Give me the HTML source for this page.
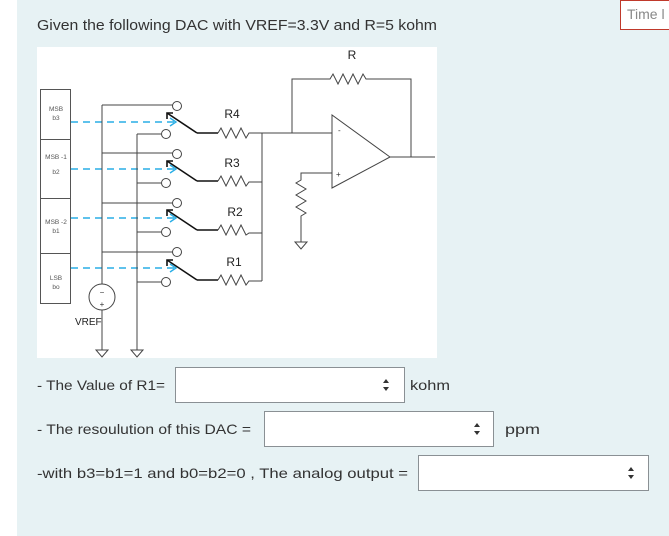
<!DOCTYPE html>
<html><head><meta charset="utf-8"><style>
html,body{margin:0;padding:0;background:#fff;width:669px;height:536px;overflow:hidden}
svg{display:block}
text{font-family:"Liberation Sans",sans-serif}
</style></head><body>
<svg width="669" height="536" viewBox="0 0 669 536" xmlns="http://www.w3.org/2000/svg">
<rect x="17" y="0" width="652" height="536" fill="#e7f2f4"/>
<rect x="620.5" y="0.5" width="60" height="29" fill="#fff" stroke="#c0392b"/>
<text x="627" y="19" font-size="14" fill="#888">Time l</text>
<text x="37" y="30" font-size="14.5" fill="#333" textLength="400" lengthAdjust="spacingAndGlyphs">Given the following DAC with VREF=3.3V and R=5 kohm</text>
<rect x="37" y="47" width="400" height="311" fill="#fff"/>
<g stroke="#555" fill="none" stroke-width="1">
<rect x="40.5" y="89.5" width="30" height="214"/>
<line x1="40" y1="139.5" x2="70" y2="139.5"/>
<line x1="40" y1="198.5" x2="70" y2="198.5"/>
<line x1="40" y1="253.5" x2="70" y2="253.5"/>
</g>
<g font-size="6.5" fill="#555" text-anchor="middle">
<text x="56" y="111">MSB</text><text x="56" y="120">b3</text>
<text x="56" y="159">MSB -1</text><text x="56" y="174">b2</text>
<text x="56" y="224">MSB -2</text><text x="56" y="233">b1</text>
<text x="56" y="280">LSB</text><text x="56" y="289">bo</text>
</g>
<g stroke="#29aee6" stroke-width="1.6" fill="none" stroke-dasharray="7,5">
<line x1="71" y1="122" x2="175" y2="122"/>
<line x1="71" y1="169" x2="175" y2="169"/>
<line x1="71" y1="218" x2="175" y2="218"/>
<line x1="71" y1="268" x2="175" y2="268"/>
</g>
<g stroke="#29aee6" stroke-width="1.4" fill="none">
<polyline points="170,118 176,122 170,126"/>
<polyline points="170,165 176,169 170,173"/>
<polyline points="170,214 176,218 170,222"/>
<polyline points="170,264 176,268 170,272"/>
</g>
<g stroke="#444" fill="none" stroke-width="1">
<line x1="102" y1="105" x2="102" y2="284"/>
<circle cx="102" cy="297" r="13" fill="#fff"/>
<line x1="102" y1="310" x2="102" y2="350"/>
<polygon points="96,350 108,350 102,357"/>
<line x1="137" y1="134" x2="137" y2="350"/>
<polygon points="131,350 143,350 137,357"/>
<line x1="102" y1="105" x2="173" y2="105"/>
<line x1="102" y1="153" x2="173" y2="153"/>
<line x1="102" y1="203" x2="173" y2="203"/>
<line x1="102" y1="252" x2="173" y2="252"/>
<line x1="137" y1="134" x2="161" y2="134"/>
<line x1="137" y1="183" x2="161" y2="183"/>
<line x1="137" y1="232" x2="161" y2="232"/>
<line x1="137" y1="282" x2="161" y2="282"/>
<circle cx="177" cy="106" r="4.5" fill="#fff"/>
<circle cx="177" cy="154" r="4.5" fill="#fff"/>
<circle cx="177" cy="203" r="4.5" fill="#fff"/>
<circle cx="177" cy="252" r="4.5" fill="#fff"/>
<circle cx="166" cy="134" r="4.5" fill="#fff"/>
<circle cx="166" cy="183" r="4.5" fill="#fff"/>
<circle cx="166" cy="232" r="4.5" fill="#fff"/>
<circle cx="166" cy="282" r="4.5" fill="#fff"/>
</g>
<g font-size="8" fill="#333" text-anchor="middle"><text x="102" y="295">−</text><text x="102" y="307">+</text></g>
<text x="75" y="325" font-size="10" fill="#222">VREF</text>
<g stroke="#111" stroke-width="1.6" fill="none">
<polyline points="197,133 167,113"/><polyline points="167,119 167,113 173,113"/>
<polyline points="197,181 167,161"/><polyline points="167,167 167,161 173,161"/>
<polyline points="197,230 167,210"/><polyline points="167,216 167,210 173,210"/>
<polyline points="197,280 167,260"/><polyline points="167,266 167,260 173,260"/>
<line x1="197" y1="133" x2="218" y2="133"/>
<line x1="197" y1="181" x2="218" y2="181"/>
<line x1="197" y1="230" x2="218" y2="230"/>
<line x1="197" y1="280" x2="218" y2="280"/>
</g>
<g stroke="#444" fill="none" stroke-width="1">
<polyline points="218,133 221,128 226,138 231,128 236,138 241,128 246,138 249,133 262,133"/>
<polyline points="218,181 221,176 226,186 231,176 236,186 241,176 246,186 249,182 262,182"/>
<polyline points="218,230 221,225 226,235 231,225 236,235 241,225 246,235 249,233 262,233"/>
<polyline points="218,280 221,275 226,285 231,275 236,285 241,275 246,285 249,281 262,281"/>
<line x1="262" y1="133" x2="262" y2="281"/>
<line x1="262" y1="133" x2="332" y2="133"/>
<polyline points="292,133 292,79 330,79 333,74 338,84 343,74 348,84 353,74 358,84 363,74 366,79 411,79 411,157"/>
<polygon points="332,115 332,188 390,157" fill="#fff"/>
<line x1="390" y1="157" x2="435" y2="157"/>
<polyline points="332,173 301,173 301,180 296,183 306,189 296,195 306,201 296,207 306,213 301,216 301,242"/>
<polygon points="295,242 307,242 301,249"/>
</g>
<g font-size="8" fill="#333"><text x="338" y="133">-</text><text x="336" y="177">+</text></g>
<g font-size="12" fill="#222" text-anchor="middle">
<text x="232" y="118">R4</text><text x="232" y="167">R3</text><text x="235" y="216">R2</text><text x="234" y="266">R1</text>
<text x="352" y="59">R</text>
</g>
<g font-size="14" fill="#333">
<text x="37" y="390" textLength="128" lengthAdjust="spacingAndGlyphs">- The Value of R1=</text>
<text x="410" y="390" textLength="40" lengthAdjust="spacingAndGlyphs">kohm</text>
<text x="37" y="434" textLength="214" lengthAdjust="spacingAndGlyphs">- The resoulution of this DAC =</text>
<text x="505" y="434" textLength="35" lengthAdjust="spacingAndGlyphs">ppm</text>
<text x="37" y="478" textLength="371" lengthAdjust="spacingAndGlyphs">-with b3=b1=1 and  b0=b2=0  , The analog output =</text>
</g>
<g stroke="#8a9094" fill="#fff">
<rect x="175.5" y="367.5" width="229" height="35"/>
<rect x="264.5" y="411.5" width="229" height="35"/>
<rect x="418.5" y="455.5" width="230" height="35"/>
</g>
<g fill="#333">
<polygon points="383,383 386,379 389,383"/><polygon points="383,387 386,391 389,387"/>
<polygon points="474,427 477,423 480,427"/><polygon points="474,431 477,435 480,431"/>
<polygon points="628,471 631,467 634,471"/><polygon points="628,475 631,479 634,475"/>
</g>
</svg>
</body></html>
